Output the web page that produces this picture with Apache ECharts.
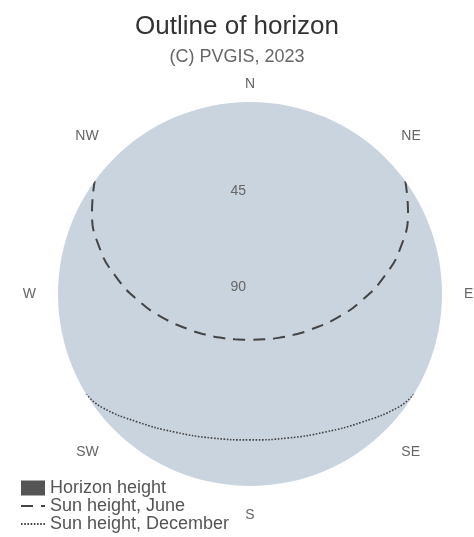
<!DOCTYPE html>
<html lang="en">
<head>
  <meta charset="UTF-8">
  <title>Outline of horizon</title>
  <script src="https://cdn.jsdelivr.net/npm/echarts@6/dist/echarts.min.js"></script>
  <style>
    html, body { margin: 0; padding: 0; background: #fff; }
    #main { width: 474px; height: 537px; }
  </style>
</head>
<body>
<div id="main"></div>
<script type="text/javascript">
// compass labels every 45 degrees, N at top, clockwise
var directions = ['N', 'NE', 'E', 'SE', 'S', 'SW', 'W', 'NW'];

// horizon (flat, so it stays on the rim)
var horizonAz = [0, 30, 60, 90, 120, 150, 180, 210, 240, 270, 300, 330, 360];
var horizonHeight = [0, 0, 0, 0, 0, 0, 0, 0, 0, 0, 0, 0, 0];

// sun path, June (azimuth from N, elevation in degrees)
var juneAz = [54.0, 62.5, 73.0, 82.7, 93.1, 105.3, 121.4, 132.2, 145.5, 161.7, 180,
              198.3, 214.5, 227.8, 238.6, 254.7, 266.9, 277.3, 287.0, 297.5, 306.0];
var juneHeight = [0, 6.5, 16.3, 26.7, 37.3, 47.7, 57.5, 61.7, 65.2, 67.6, 68.5,
                  67.6, 65.2, 61.7, 57.5, 47.7, 37.3, 26.7, 16.3, 6.5, 0];

// sun path, December
var decAz = [121.5, 127.3, 138.8, 151.4, 165.3, 180, 194.7, 208.6, 221.2, 232.7, 238.5];
var decHeight = [0, 2.5, 10.2, 16.3, 20.2, 21.6, 20.2, 16.3, 10.2, 2.5, 0];

function pairs(h, az) {
  var out = [];
  for (var i = 0; i < h.length; i++) {
    out.push([h[i], az[i]]);
  }
  return out;
}

var font = 'Liberation Sans, Arial, sans-serif';
var noMark = { color: 'transparent', borderColor: 'transparent', opacity: 0 };
var myChart = echarts.init(document.getElementById('main'));

var option = {
  backgroundColor: '#fff',
  animation: false,
  title: {
    text: 'Outline of horizon',
    subtext: '(C) PVGIS, 2023',
    left: 'center',
    top: 9,
    itemGap: 8,
    textStyle: { fontFamily: font, fontSize: 26, fontWeight: 'normal', color: '#333' },
    subtextStyle: { fontFamily: font, fontSize: 18, color: '#666' }
  },
  legend: {
    orient: 'vertical',
    left: 20,
    top: 479,
    padding: 0,
    itemWidth: 24,
    itemHeight: 15,
    itemGap: 0,
    textStyle: { fontFamily: font, fontSize: 18, lineHeight: 17, color: '#555' },
    data: [
      { name: 'Horizon height', icon: 'rect', itemStyle: { color: '#555' } },
      { name: 'Sun height, June', itemStyle: noMark },
      { name: 'Sun height, December', itemStyle: noMark }
    ]
  },
  // polar 0 only paints the disc, polar 1 carries axes and data
  polar: [
    { center: [250, 294], radius: 192 },
    { center: [250, 294], radius: 192 }
  ],
  angleAxis: [
    {
      polarIndex: 0,
      type: 'value',
      min: 0,
      max: 360,
      startAngle: 90,
      axisLine: { show: false },
      axisTick: { show: false },
      axisLabel: { show: false },
      splitLine: { show: false }
    },
    {
      polarIndex: 1,
      type: 'value',
      min: 0,
      max: 360,
      interval: 45,
      startAngle: 90,
      clockwise: true,
      axisLine: { show: false },
      axisTick: { show: false },
      splitLine: { show: false },
      axisLabel: {
        margin: 22,
        fontFamily: font,
        fontSize: 14,
        color: '#666',
        formatter: function (v) {
          var d = directions[Math.round(v / 45) % 8];
          return d === 'N' ? '{n|N}' : d;
        },
        rich: {
          n: { fontFamily: font, fontSize: 14, color: '#666', lineHeight: 4, padding: [0, 0, -12, 0] }
        }
      }
    }
  ],
  radiusAxis: [
    {
      polarIndex: 0,
      type: 'value',
      min: 0,
      max: 90,
      interval: 90,
      axisLine: { show: false },
      axisTick: { show: false },
      axisLabel: { show: false },
      splitLine: { show: false },
      splitArea: { show: true, areaStyle: { color: ['#c9d4df'] } }
    },
    {
      polarIndex: 1,
      type: 'value',
      min: 0,
      max: 90,
      interval: 45,
      inverse: true,
      axisLine: { show: false },
      axisTick: { show: false },
      splitLine: { show: false },
      axisLabel: {
        showMinLabel: false,
        margin: 4,
        fontFamily: font,
        fontSize: 14,
        color: '#666',
        verticalAlign: 'bottom'
      }
    }
  ],
  series: [
    {
      name: 'Horizon height',
      type: 'line',
      coordinateSystem: 'polar',
      polarIndex: 1,
      symbol: 'none',
      color: '#555',
      lineStyle: { width: 0, opacity: 0 },
      data: pairs(horizonHeight, horizonAz)
    },
    {
      name: 'Sun height, June',
      type: 'line',
      coordinateSystem: 'polar',
      polarIndex: 1,
      symbol: 'emptyCircle',
      showSymbol: false,
      smooth: true,
      color: '#444',
      lineStyle: { width: 2, type: [12, 8], color: '#444' },
      data: pairs(juneHeight, juneAz)
    },
    {
      name: 'Sun height, December',
      type: 'line',
      coordinateSystem: 'polar',
      polarIndex: 1,
      symbol: 'emptyCircle',
      showSymbol: false,
      smooth: true,
      color: '#444',
      lineStyle: { width: 1.6, type: [1.6, 1.6], color: '#444' },
      data: pairs(decHeight, decAz)
    }
  ]
};

myChart.setOption(option);
</script>
</body>
</html>
